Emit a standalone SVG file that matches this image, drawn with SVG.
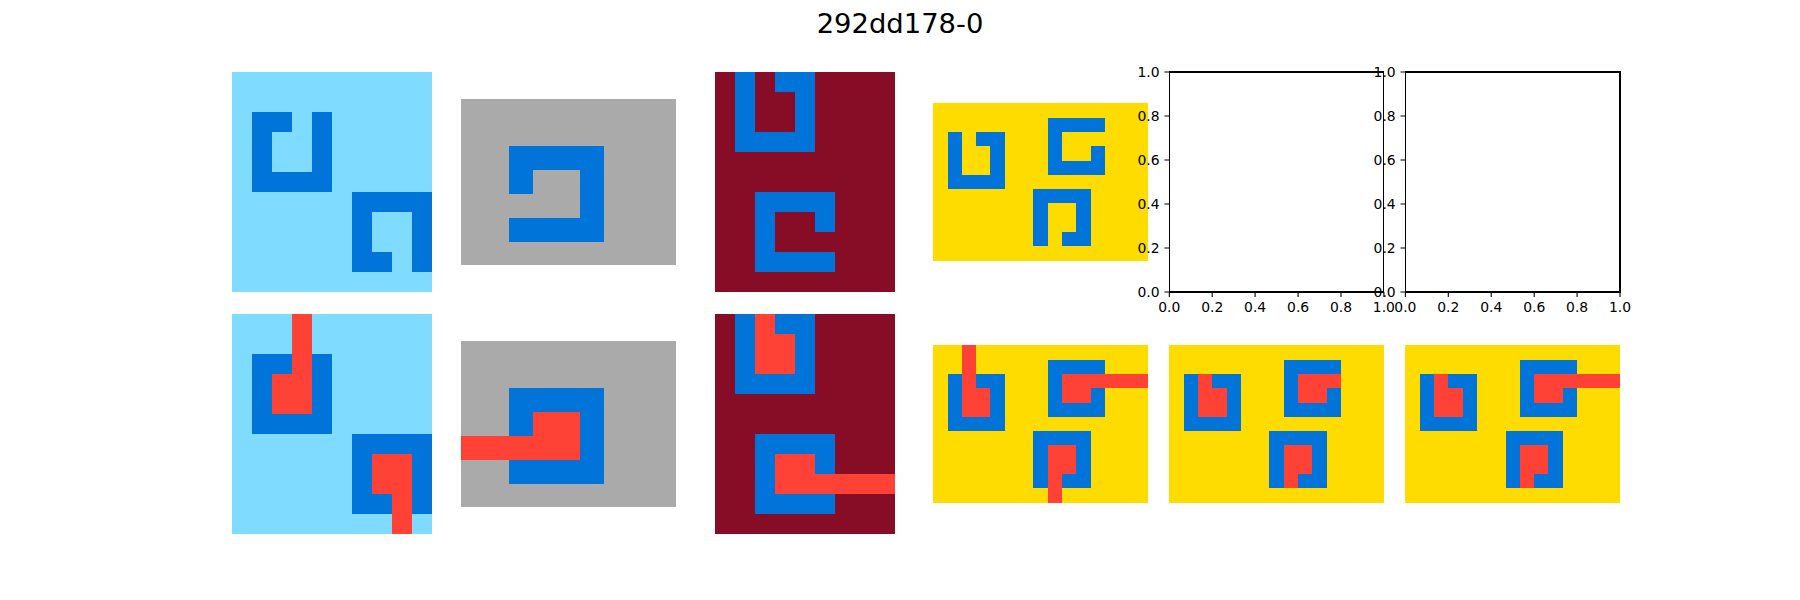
<svg xmlns="http://www.w3.org/2000/svg" xmlns:xlink="http://www.w3.org/1999/xlink" width="1800" height="600" viewBox="0 0 1800 600">
<style>
.lb{fill:#7FDBFF}.bl{fill:#0074D9}.gr{fill:#AAAAAA}.dr{fill:#870C25}.ye{fill:#FFDC00}.rd{fill:#FF4136}
rect{shape-rendering:crispEdges}
.sp{fill:none;stroke:#000;stroke-width:1.1}
.tk{stroke:#000;stroke-width:1.1}
.tl{font-family:"DejaVu Sans",sans-serif;font-size:13.9px;fill:#000}
.title{font-family:"DejaVu Sans",sans-serif;font-size:27.4px;fill:#000}
</style>
<defs>
<g id="shA"><rect x="1" y="2" width="1" height="4"/><rect x="4" y="2" width="1" height="4"/><rect x="2" y="2" width="1" height="1"/><rect x="2" y="5" width="2" height="1"/><rect x="6" y="6" width="4" height="1"/><rect x="6" y="7" width="1" height="3"/><rect x="9" y="7" width="1" height="3"/><rect x="7" y="9" width="1" height="1"/></g>
<g id="shB"><rect x="2" y="2" width="4" height="1"/><rect x="2" y="3" width="1" height="1"/><rect x="5" y="3" width="1" height="2"/><rect x="2" y="5" width="4" height="1"/></g>
<g id="shC"><rect x="1" y="0" width="1" height="4"/><rect x="3" y="0" width="2" height="1"/><rect x="4" y="1" width="1" height="3"/><rect x="2" y="3" width="2" height="1"/><rect x="2" y="6" width="4" height="1"/><rect x="2" y="7" width="1" height="3"/><rect x="5" y="7" width="1" height="1"/><rect x="3" y="9" width="3" height="1"/></g>
<g id="shD"><rect x="1" y="2" width="1" height="4"/><rect x="3" y="2" width="2" height="1"/><rect x="4" y="3" width="1" height="3"/><rect x="2" y="5" width="2" height="1"/><rect x="8" y="1" width="4" height="1"/><rect x="8" y="2" width="1" height="3"/><rect x="11" y="3" width="1" height="2"/><rect x="9" y="4" width="2" height="1"/><rect x="7" y="6" width="4" height="1"/><rect x="7" y="7" width="1" height="3"/><rect x="10" y="7" width="1" height="3"/><rect x="9" y="9" width="1" height="1"/></g>
</defs>
<text class="title" x="900" y="33.3" text-anchor="middle">292dd178-0</text>
<g id="in1" transform="translate(232.3,72) scale(20)"><rect class="lb" x="0" y="0" width="10" height="11"/><use xlink:href="#shA" class="bl"/></g>
<g id="in2" transform="translate(461.1,98.55) scale(23.844)"><rect class="gr" x="0" y="0" width="9" height="7"/><use xlink:href="#shB" class="bl"/></g>
<g id="in3" transform="translate(714.5,72) scale(20)"><rect class="dr" x="0" y="0" width="9" height="11"/><use xlink:href="#shC" class="bl"/></g>
<g id="in4" transform="translate(933.2,103.3) scale(14.307)"><rect class="ye" x="0" y="0" width="15" height="11"/><use xlink:href="#shD" class="bl"/></g>
<g id="out1" transform="translate(232.3,314) scale(20)"><rect class="lb" x="0" y="0" width="10" height="11"/><use xlink:href="#shA" class="bl"/><g class="rd"><rect x="3" y="0" width="1" height="3"/><rect x="2" y="3" width="2" height="2"/><rect x="7" y="7" width="2" height="2"/><rect x="8" y="9" width="1" height="2"/></g></g>
<g id="out2" transform="translate(461.1,340.55) scale(23.844)"><rect class="gr" x="0" y="0" width="9" height="7"/><use xlink:href="#shB" class="bl"/><g class="rd"><rect x="3" y="3" width="2" height="2"/><rect x="0" y="4" width="3" height="1"/></g></g>
<g id="out3" transform="translate(714.5,314) scale(20)"><rect class="dr" x="0" y="0" width="9" height="11"/><use xlink:href="#shC" class="bl"/><g class="rd"><rect x="2" y="0" width="1" height="1"/><rect x="2" y="1" width="2" height="2"/><rect x="3" y="7" width="2" height="2"/><rect x="5" y="8" width="4" height="1"/></g></g>
<g id="out4" transform="translate(933.2,345.3) scale(14.307)"><rect class="ye" x="0" y="0" width="15" height="11"/><use xlink:href="#shD" class="bl"/><g class="rd"><rect x="2" y="0" width="1" height="3"/><rect x="2" y="3" width="2" height="2"/><rect x="9" y="2" width="6" height="1"/><rect x="9" y="3" width="2" height="1"/><rect x="8" y="7" width="2" height="2"/><rect x="8" y="9" width="1" height="2"/></g></g>
<g id="out5" transform="translate(1169.3,345.3) scale(14.307)"><rect class="ye" x="0" y="0" width="15" height="11"/><use xlink:href="#shD" class="bl"/><g class="rd"><rect x="2" y="2" width="1" height="1"/><rect x="2" y="3" width="2" height="2"/><rect x="9" y="2" width="3" height="1"/><rect x="9" y="3" width="2" height="1"/><rect x="8" y="7" width="2" height="2"/><rect x="8" y="9" width="1" height="1"/></g></g>
<g id="out6" transform="translate(1405.4,345.3) scale(14.307)"><rect class="ye" x="0" y="0" width="15" height="11"/><use xlink:href="#shD" class="bl"/><g class="rd"><rect x="2" y="2" width="1" height="1"/><rect x="2" y="3" width="2" height="2"/><rect x="9" y="2" width="6" height="1"/><rect x="9" y="3" width="2" height="1"/><rect x="8" y="7" width="2" height="2"/><rect x="8" y="9" width="1" height="1"/></g></g>
<g id="empty1">
<rect class="sp" x="1169.3" y="72" width="214.6" height="220"/>
<path class="tk" d="M1169.3,292v4.9M1212.2,292v4.9M1255.1,292v4.9M1298.1,292v4.9M1341,292v4.9M1383.9,292v4.9M1169.3,292h-4.9M1169.3,248h-4.9M1169.3,204h-4.9M1169.3,160h-4.9M1169.3,116h-4.9M1169.3,72h-4.9"/>
<g class="tl" text-anchor="middle"><text x="1169.3" y="312">0.0</text><text x="1212.2" y="312">0.2</text><text x="1255.1" y="312">0.4</text><text x="1298.1" y="312">0.6</text><text x="1341" y="312">0.8</text><text x="1383.9" y="312">1.0</text></g>
<g class="tl" text-anchor="end"><text x="1159.6" y="297">0.0</text><text x="1159.6" y="253">0.2</text><text x="1159.6" y="209">0.4</text><text x="1159.6" y="165">0.6</text><text x="1159.6" y="121">0.8</text><text x="1159.6" y="77">1.0</text></g>
</g>
<g id="empty2">
<rect class="sp" x="1405.4" y="72" width="214.6" height="220"/>
<path class="tk" d="M1405.4,292v4.9M1448.3,292v4.9M1491.2,292v4.9M1534.2,292v4.9M1577.1,292v4.9M1620,292v4.9M1405.4,292h-4.9M1405.4,248h-4.9M1405.4,204h-4.9M1405.4,160h-4.9M1405.4,116h-4.9M1405.4,72h-4.9"/>
<g class="tl" text-anchor="middle"><text x="1405.4" y="312">0.0</text><text x="1448.3" y="312">0.2</text><text x="1491.2" y="312">0.4</text><text x="1534.2" y="312">0.6</text><text x="1577.1" y="312">0.8</text><text x="1620" y="312">1.0</text></g>
<g class="tl" text-anchor="end"><text x="1395.7" y="297">0.0</text><text x="1395.7" y="253">0.2</text><text x="1395.7" y="209">0.4</text><text x="1395.7" y="165">0.6</text><text x="1395.7" y="121">0.8</text><text x="1395.7" y="77">1.0</text></g>
</g>
</svg>
